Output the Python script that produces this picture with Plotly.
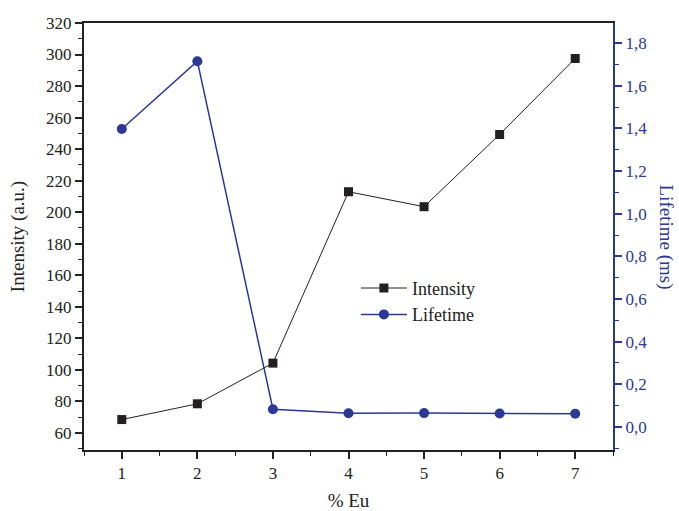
import plotly.graph_objects as go

eu = [1, 2, 3, 4, 5, 6, 7]
intensity = [68.5, 78.5, 104.3, 213, 203.5, 249.3, 297.5]
lifetime = [1.397, 1.715, 0.083, 0.064, 0.065, 0.063, 0.062]

BLUE = "#2b3896"
FONT = "Liberation Serif, Times New Roman, DejaVu Serif, serif"
BLACK = "#222222"

fig = go.Figure()
fig.add_trace(go.Scatter(
    x=eu, y=intensity, name="Intensity", mode="lines+markers",
    line=dict(color=BLACK, width=1),
    marker=dict(symbol="square", size=9, color="#231f20"),
    yaxis="y"))
fig.add_trace(go.Scatter(
    x=eu, y=lifetime, name="Lifetime", mode="lines+markers",
    line=dict(color=BLUE, width=1.5),
    marker=dict(symbol="circle", size=10, color=BLUE),
    yaxis="y2"))

fig.update_layout(
    width=679, height=511,
    margin=dict(l=84, r=66, t=23, b=61),
    paper_bgcolor="white", plot_bgcolor="white",
    font=dict(family=FONT, size=17, color=BLACK),
    separators=", ",
    showlegend=True,
    legend=dict(x=0.514, y=0.422, xanchor="left", yanchor="top",
                bgcolor="rgba(0,0,0,0)", font=dict(size=18, family=FONT, color=BLACK),
                tracegroupgap=0, itemwidth=46),
    xaxis=dict(range=[0.5, 7.5], tickvals=eu, showgrid=False, zeroline=False,
               automargin=False,
               tickfont=dict(family=FONT, size=17, color=BLACK),
               showline=True, linecolor=BLACK, linewidth=1.5, mirror=True,
               ticks="outside", ticklen=7, tickwidth=1.5, tickcolor=BLACK,
               minor=dict(dtick=0.5, tick0=0.5, ticks="outside", ticklen=4, tickcolor=BLACK, tickwidth=1),
               title=dict(text="% Eu", font=dict(size=19, family=FONT, color=BLACK), standoff=14)),
    yaxis=dict(range=[49.2, 320], tick0=60, dtick=20, showgrid=False, zeroline=False,
               automargin=False,
               tickfont=dict(family=FONT, size=17, color=BLACK),
               showline=True, linecolor=BLACK, linewidth=2,
               ticks="outside", ticklen=7, tickwidth=1.5, tickcolor=BLACK,
               minor=dict(dtick=10, tick0=50, ticks="outside", ticklen=4, tickcolor=BLACK, tickwidth=1),
               title=dict(text="Intensity (a.u.)", font=dict(size=19, family=FONT, color=BLACK), standoff=16)),
    yaxis2=dict(range=[-0.108, 1.894], tick0=0, dtick=0.2, tickformat=".1f",
                automargin=False,
                overlaying="y", side="right", showgrid=False, zeroline=False,
                showline=True, linecolor=BLUE, linewidth=2,
                ticks="outside", ticklen=7, tickwidth=1.5, tickcolor=BLUE,
                tickfont=dict(family=FONT, size=17, color=BLUE),
                minor=dict(dtick=0.1, tick0=0, ticks="outside", ticklen=4, tickcolor=BLUE, tickwidth=1)),
)

fig.add_annotation(text="Lifetime (ms)", textangle=90, xref="paper", yref="paper",
                   x=1.0, xshift=53, y=0.5, xanchor="center", yanchor="middle",
                   showarrow=False,
                   font=dict(size=19, color=BLUE, family=FONT))

fig.write_html("out.html")
